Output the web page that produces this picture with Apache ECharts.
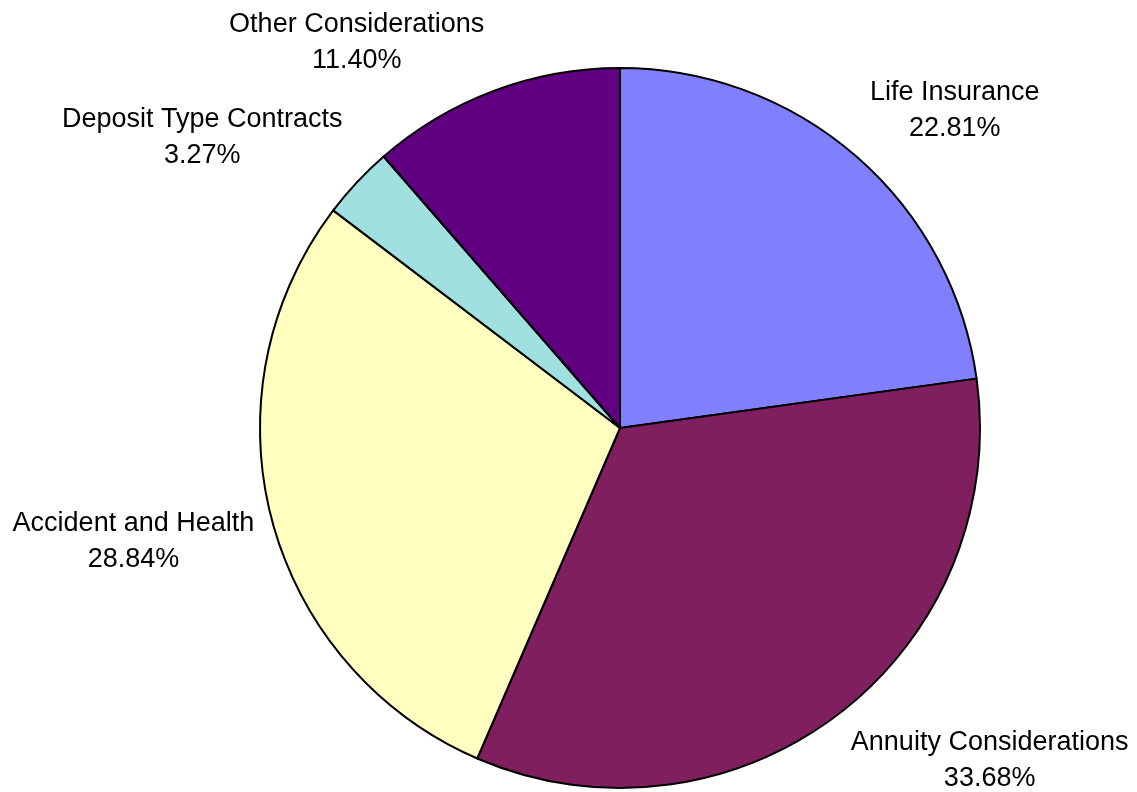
<!DOCTYPE html>
<html>
<head>
<meta charset="utf-8">
<script src="https://cdn.jsdelivr.net/npm/echarts@6/dist/echarts.min.js"></script>
<style>
  html, body { margin: 0; padding: 0; background: #fff; }
  #pieChart { width: 1137px; height: 792px; }
</style>
</head>
<body>
<div id="pieChart"></div>
<script>
var categories = ['Life Insurance', 'Annuity Considerations', 'Accident and Health', 'Deposit Type Contracts', 'Other Considerations'];
var shares = [22.81, 33.68, 28.84, 3.27, 11.40];
var colors = ['#8080FF', '#7F1F5F', '#FFFFC0', '#A0E0E0', '#600080'];

var cx = 620, cy = 428, R = 360;
var lineLen = 13;

var dom = document.getElementById('pieChart');
var chart = echarts.init(dom);

chart.setOption({
  animation: false,
  backgroundColor: '#fff',
  series: [{
    type: 'pie',
    center: [cx, cy],
    radius: [0, R],
    startAngle: 90,
    clockwise: true,
    avoidLabelOverlap: false,
    data: categories.map(function (name, i) {
      return { name: name, value: shares[i], itemStyle: { color: colors[i] } };
    }),
    itemStyle: { borderColor: '#000', borderWidth: 2 },
    label: {
      show: true,
      position: 'outside',
      formatter: function (p) { return p.name + '\n' + p.value.toFixed(2) + '%'; },
      fontFamily: 'Liberation Sans, Arial, sans-serif',
      fontSize: 27,
      lineHeight: 36,
      color: '#000',
      distanceToLabelLine: 5
    },
    labelLine: { show: false, length: lineLen, length2: 0 },
    labelLayout: function (p) {
      var r = p.labelRect;
      var mx = r.x + r.width / 2;
      var my = r.y + r.height / 2;
      // push the label away from the pie vertically, as the original does
      var dy = (my - cy) / (R + lineLen);
      var k = Math.max(-1, Math.min(1, dy * 2));
      return { x: mx, y: my + k * r.height / 2, align: 'center', verticalAlign: 'middle' };
    },
    emphasis: { disabled: true }
  }]
});
</script>
</body>
</html>
